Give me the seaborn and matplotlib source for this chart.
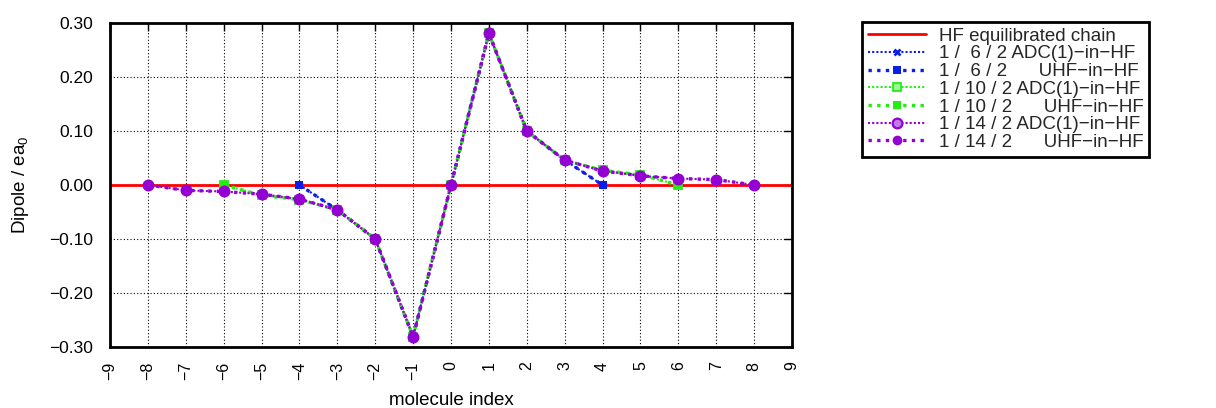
import matplotlib
matplotlib.use("Agg")
import matplotlib.pyplot as plt
import seaborn as sns
import numpy as np
from matplotlib.ticker import FuncFormatter

# ---------------- data ----------------
hf_x = [-9, 9]
hf_y = [0.0, 0.0]

x6 = [-4, -3, -2, -1, 0, 1, 2, 3, 4]
adc6 = [0.0, -0.046, -0.100, -0.281, 0.0, 0.281, 0.100, 0.046, 0.0]
uhf6 = [0.0, -0.046, -0.100, -0.281, 0.0, 0.281, 0.100, 0.046, 0.0]

x10 = [-6, -5, -4, -3, -2, -1, 0, 1, 2, 3, 4, 5, 6]
adc10 = [0.0, -0.019, -0.027, -0.046, -0.100, -0.281, 0.0, 0.281, 0.100, 0.046, 0.027, 0.019, 0.0]
uhf10 = [0.0, -0.019, -0.027, -0.046, -0.100, -0.281, 0.0, 0.281, 0.100, 0.046, 0.027, 0.019, 0.0]

x14 = [-8, -7, -6, -5, -4, -3, -2, -1, 0, 1, 2, 3, 4, 5, 6, 7, 8]
adc14 = [0.0, -0.010, -0.012, -0.017, -0.026, -0.046, -0.100, -0.281, 0.0,
         0.281, 0.100, 0.046, 0.026, 0.017, 0.012, 0.010, 0.0]
uhf14 = [0.0, -0.010, -0.012, -0.017, -0.026, -0.046, -0.100, -0.281, 0.0,
         0.281, 0.100, 0.046, 0.026, 0.017, 0.012, 0.010, 0.0]

labels = ["HF equilibrated chain",
          "1 /  6 / 2 ADC(1)\u2212in\u2212HF",
          "1 /  6 / 2      UHF\u2212in\u2212HF",
          "1 / 10 / 2 ADC(1)\u2212in\u2212HF",
          "1 / 10 / 2      UHF\u2212in\u2212HF",
          "1 / 14 / 2 ADC(1)\u2212in\u2212HF",
          "1 / 14 / 2      UHF\u2212in\u2212HF"]
x_ticks = list(range(-9, 10))
y_ticks = [-0.3, -0.2, -0.1, 0.0, 0.1, 0.2, 0.3]

# ---------------- style ----------------
sns.set_theme(style="white")
plt.rcParams['font.family'] = ['Liberation Sans', 'DejaVu Sans']
plt.rcParams['mathtext.fontset'] = 'custom'
plt.rcParams['mathtext.rm'] = 'Liberation Sans'
plt.rcParams['mathtext.default'] = 'regular'

fig = plt.figure(figsize=(12.16, 4.08), dpi=100)
ax = fig.add_axes([110 / 1216, 61 / 408, (792 - 110) / 1216, (347 - 23) / 408])

blue = '#0a1ee8'
green = '#22ee11'
purple = '#9400d3'
red = '#ff0000'

adc_ls = (0, (1, 1))
uhf_ls = (0, (1, 1.6))

sns.lineplot(x=hf_x, y=hf_y, ax=ax, color=red, lw=2.0, label=labels[0])

sns.lineplot(x=x6, y=adc6, ax=ax, color=blue, lw=1.5, linestyle=adc_ls,
             marker='x', markersize=5, markeredgewidth=1.9, markeredgecolor=blue,
             label=labels[1])
sns.lineplot(x=x6, y=uhf6, ax=ax, color=blue, lw=2.4, linestyle=uhf_ls,
             marker='s', markersize=6, markeredgewidth=0, label=labels[2])

sns.lineplot(x=x10, y=adc10, ax=ax, color=green, lw=1.5, linestyle=adc_ls,
             marker='s', markersize=6, markerfacecolor='#9ef59a', markeredgecolor=green,
             markeredgewidth=1.3, label=labels[3])
sns.lineplot(x=x10, y=uhf10, ax=ax, color=green, lw=2.4, linestyle=uhf_ls,
             marker='s', markersize=6, markeredgewidth=0, label=labels[4])

sns.lineplot(x=x14, y=adc14, ax=ax, color=purple, lw=1.5, linestyle=adc_ls,
             marker='o', markersize=7, markerfacecolor='#c07ae6', markeredgecolor=purple,
             markeredgewidth=1.6, label=labels[5])
sns.lineplot(x=x14, y=uhf14, ax=ax, color=purple, lw=2.4, linestyle=uhf_ls,
             marker='o', markersize=7, markeredgewidth=0, label=labels[6])

ax.set_xlim(-9, 9)
ax.set_ylim(-0.3, 0.3)
ax.set_xticks(x_ticks)
ax.set_yticks(y_ticks)
ax.xaxis.set_major_formatter(FuncFormatter(lambda v, p: f"{int(round(v))}".replace('-', '\u2212')))
ax.yaxis.set_major_formatter(FuncFormatter(lambda v, p: f"{v:.2f}".replace('-', '\u2212')))
ax.tick_params(axis='both', which='major', direction='in', length=6, width=1,
               top=True, right=True, colors='black')
ax.tick_params(axis='y', labelsize=12.5, pad=12)
ax.tick_params(axis='x', labelsize=11.5, pad=10.5, labelrotation=90)
ax.grid(True, color='black', linestyle=(0, (1, 2)), linewidth=0.8)
ax.set_axisbelow(True)
for s in ax.spines.values():
    s.set_linewidth(2)
    s.set_color('black')

ax.set_xlabel("molecule index", fontsize=13.5, color='black', labelpad=9)
ax.set_ylabel("Dipole / ea$_0$", fontsize=13.5, color='black', labelpad=13)

handles, labs = ax.get_legend_handles_labels()
if ax.legend_:
    ax.legend_.remove()
leg = fig.legend(handles, labs, loc='upper left',
                 bbox_to_anchor=(862 / 1216, 1 - 22 / 408),
                 fontsize=13.5, frameon=True, fancybox=False, framealpha=1,
                 edgecolor='black', handlelength=3.1, handletextpad=0.7,
                 labelspacing=0.03, borderpad=0.3, borderaxespad=0)
leg.get_frame().set_linewidth(2)

fig.savefig("out.png", dpi=100)
